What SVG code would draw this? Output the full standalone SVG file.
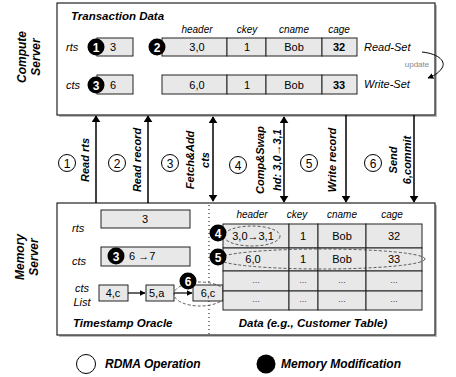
<svg xmlns="http://www.w3.org/2000/svg" width="456" height="377" viewBox="0 0 456 377">
<defs>
<marker id="ah" viewBox="0 0 10 10" refX="9" refY="5" markerWidth="7" markerHeight="9" markerUnits="userSpaceOnUse" orient="auto-start-reverse" preserveAspectRatio="none"><path d="M0,0 L10,5 L0,10 z" fill="#000"/></marker>
<marker id="sah" viewBox="0 0 10 10" refX="9" refY="5" markerWidth="6" markerHeight="6" markerUnits="userSpaceOnUse" orient="auto"><path d="M0,0 L10,5 L0,10 z" fill="#000"/></marker>
</defs>
<style>
text{font-family:"Liberation Sans",Arial,sans-serif;fill:#000}
.t{font-size:11px}
.h{font-size:10px;font-style:italic}
.lbl{font-size:11px;font-style:italic}
.bi{font-size:11px;font-weight:bold;font-style:italic}
.lg{font-size:12px;font-weight:bold;font-style:italic}
.side{font-size:12px;font-weight:bold;font-style:italic}
.cell{fill:#e8e8e8;stroke:#222;stroke-width:1}
.panel{fill:#fff;stroke:#222;stroke-width:1.2}
.shadow{fill:#bbb}
.fc{fill:#000}
.fn{font-size:12px;font-weight:bold;fill:#fff}
.oc{fill:#fff;stroke:#000;stroke-width:1}
.on{font-size:12px}
.ln{stroke:#000;stroke-width:1.5;fill:none}
.dash{fill:none;stroke:#333;stroke-width:0.8;stroke-dasharray:3,2}
.dots{stroke:#000;stroke-width:1;stroke-dasharray:1,3}
.dd{font-size:9px;fill:#444}
</style>

<g id="compute-label">
<text class="side" text-anchor="middle" transform="translate(26,57) rotate(-90)">Compute</text>
<text class="side" text-anchor="middle" transform="translate(40,57) rotate(-90)">Server</text>
</g>
<g id="memory-label">
<text class="side" text-anchor="middle" transform="translate(24,257) rotate(-90)">Memory</text>
<text class="side" text-anchor="middle" transform="translate(38,257) rotate(-90)">Server</text>
</g>

<g id="compute-server">
<rect class="shadow" x="59" y="5" width="378" height="112"/>
<rect class="panel" x="57" y="3" width="378" height="112"/>
<text class="bi" x="71" y="20" style="font-size:11.5px">Transaction Data</text>
<text class="h" x="197" y="33" text-anchor="middle">header</text>
<text class="h" x="247" y="33" text-anchor="middle">ckey</text>
<text class="h" x="294" y="33" text-anchor="middle">cname</text>
<text class="h" x="339" y="33" text-anchor="middle">cage</text>
<text class="lbl" x="66" y="51">rts</text>
<rect class="cell" x="97" y="38" width="36" height="18"/>
<text class="t" x="110" y="51">3</text>
<rect class="cell" x="162" y="38" width="65" height="18"/>
<rect class="cell" x="227" y="38" width="39" height="18"/>
<rect class="cell" x="266" y="38" width="56" height="18"/>
<rect class="cell" x="322" y="38" width="35" height="18"/>
<text class="t" x="197" y="51" text-anchor="middle">3,0</text>
<text class="t" x="247" y="51" text-anchor="middle">1</text>
<text class="t" x="294" y="51" text-anchor="middle">Bob</text>
<text class="t" x="339" y="51" text-anchor="middle" font-weight="bold">32</text>
<text class="lbl" x="364" y="51">Read-Set</text>
<text class="lbl" x="66" y="89">cts</text>
<rect class="cell" x="97" y="75" width="36" height="19"/>
<text class="t" x="110" y="89">6</text>
<rect class="cell" x="162" y="75" width="65" height="19"/>
<rect class="cell" x="227" y="75" width="39" height="19"/>
<rect class="cell" x="266" y="75" width="56" height="19"/>
<rect class="cell" x="322" y="75" width="35" height="19"/>
<text class="t" x="197" y="89" text-anchor="middle">6,0</text>
<text class="t" x="247" y="89" text-anchor="middle">1</text>
<text class="t" x="294" y="89" text-anchor="middle">Bob</text>
<text class="t" x="339" y="89" text-anchor="middle" font-weight="bold">33</text>
<text class="lbl" x="364" y="88">Write-Set</text>
<circle class="fc" cx="96" cy="47" r="8.5"/><text class="fn" x="96" y="51.5" text-anchor="middle">1</text>
<circle class="fc" cx="157" cy="47" r="8.5"/><text class="fn" x="157" y="51.5" text-anchor="middle">2</text>
<circle class="fc" cx="96" cy="85" r="8.5"/><text class="fn" x="96" y="89.5" text-anchor="middle">3</text>
<text x="417" y="67" text-anchor="middle" style="font-size:8px;fill:#888">update</text>
</g>

<g id="memory-server">
<rect class="shadow" x="59" y="205" width="378" height="132"/>
<rect class="panel" x="57" y="203" width="378" height="132"/>
<line class="dots" x1="209" y1="205" x2="209" y2="334"/>
<text class="lbl" x="72" y="232">rts</text>
<rect class="cell" x="101" y="210" width="89" height="18"/>
<text class="t" x="145" y="223" text-anchor="middle">3</text>
<text class="lbl" x="72" y="265">cts</text>
<rect class="cell" x="101" y="247" width="89" height="19"/>
<circle class="fc" cx="116" cy="256" r="8.5"/><text class="fn" x="116" y="260.5" text-anchor="middle">3</text>
<text class="t" x="129" y="260">6 →7</text>
<text class="lbl" x="82" y="292" text-anchor="middle">cts</text>
<text class="lbl" x="82" y="306" text-anchor="middle">List</text>
<rect class="cell" x="99" y="285" width="29" height="16"/>
<text class="t" x="113" y="297" text-anchor="middle">4,c</text>
<rect class="cell" x="146" y="285" width="28" height="16"/>
<text class="t" x="149" y="297">5,a</text>
<rect class="cell" x="193" y="285" width="30" height="16"/>
<text class="t" x="208" y="297" text-anchor="middle">6,c</text>
<line x1="128" y1="293" x2="145" y2="293" stroke="#000" stroke-width="1.2" marker-end="url(#sah)"/>
<line x1="174" y1="293" x2="192" y2="293" stroke="#000" stroke-width="1.2" marker-end="url(#sah)"/>
<ellipse class="dash" cx="200" cy="294" rx="26" ry="12"/>
<circle class="fc" cx="188" cy="281" r="8.5"/><text class="fn" x="188" y="285.5" text-anchor="middle">6</text>
<text class="bi" x="73" y="327" style="font-size:11.5px">Timestamp Oracle</text>

<text class="h" x="252" y="218" text-anchor="middle">header</text>
<text class="h" x="297" y="218" text-anchor="middle">ckey</text>
<text class="h" x="342" y="218" text-anchor="middle">cname</text>
<text class="h" x="392" y="218" text-anchor="middle">cage</text>
<rect class="cell" x="223" y="224" width="66" height="24"/>
<rect class="cell" x="289" y="224" width="29" height="24"/>
<rect class="cell" x="318" y="224" width="48" height="24"/>
<rect class="cell" x="366" y="224" width="56" height="24"/>
<rect class="cell" x="223" y="248" width="66" height="23"/>
<rect class="cell" x="289" y="248" width="29" height="23"/>
<rect class="cell" x="318" y="248" width="48" height="23"/>
<rect class="cell" x="366" y="248" width="56" height="23"/>
<rect class="cell" x="223" y="271" width="66" height="20"/>
<rect class="cell" x="289" y="271" width="29" height="20"/>
<rect class="cell" x="318" y="271" width="48" height="20"/>
<rect class="cell" x="366" y="271" width="56" height="20"/>
<rect class="cell" x="223" y="291" width="66" height="19"/>
<rect class="cell" x="289" y="291" width="29" height="19"/>
<rect class="cell" x="318" y="291" width="48" height="19"/>
<rect class="cell" x="366" y="291" width="56" height="19"/>
<text class="t" x="253" y="240" text-anchor="middle">3,0→3,1</text>
<text class="t" x="303" y="240" text-anchor="middle">1</text>
<text class="t" x="342" y="240" text-anchor="middle">Bob</text>
<text class="t" x="394" y="240" text-anchor="middle">32</text>
<text class="t" x="253" y="263" text-anchor="middle">6,0</text>
<text class="t" x="303" y="263" text-anchor="middle">1</text>
<text class="t" x="342" y="263" text-anchor="middle">Bob</text>
<text class="t" x="394" y="263" text-anchor="middle">33</text>
<text class="dd" x="256" y="283" text-anchor="middle">...</text>
<text class="dd" x="303" y="283" text-anchor="middle">...</text>
<text class="dd" x="342" y="283" text-anchor="middle">...</text>
<text class="dd" x="394" y="283" text-anchor="middle">...</text>
<text class="dd" x="256" y="302" text-anchor="middle">...</text>
<text class="dd" x="303" y="302" text-anchor="middle">...</text>
<text class="dd" x="342" y="302" text-anchor="middle">...</text>
<text class="dd" x="394" y="302" text-anchor="middle">...</text>
<ellipse class="dash" cx="252" cy="236" rx="28" ry="10"/>
<ellipse class="dash" cx="322" cy="259" rx="103" ry="10"/>
<circle class="fc" cx="218" cy="233" r="8.5"/><text class="fn" x="218" y="237.5" text-anchor="middle">4</text>
<circle class="fc" cx="218" cy="257" r="8.5"/><text class="fn" x="218" y="261.5" text-anchor="middle">5</text>
<text class="bi" x="313" y="327" text-anchor="middle" style="font-size:11.5px">Data (e.g., Customer Table)</text>
</g>

<g id="connectors">
<line class="ln" x1="96" y1="203" x2="96" y2="116" marker-end="url(#ah)"/>
<line class="ln" x1="148" y1="203" x2="148" y2="116" marker-end="url(#ah)"/>
<line class="ln" x1="213" y1="117" x2="213" y2="201" marker-start="url(#ah)" marker-end="url(#ah)"/>
<line class="ln" x1="284" y1="117" x2="284" y2="202" marker-start="url(#ah)" marker-end="url(#ah)"/>
<line class="ln" x1="346" y1="115" x2="346" y2="202" marker-end="url(#ah)"/>
<line class="ln" x1="414" y1="115" x2="414" y2="202" marker-end="url(#ah)"/>
<path d="M422,52 C440,54 446,62 442,68 C438,74 433,76 428,78" fill="none" stroke="#000" stroke-width="1" marker-end="url(#sah)"/>
</g>

<g id="op-labels">
<circle class="oc" cx="67" cy="163" r="8.5"/><text class="on" x="67" y="167.5" text-anchor="middle">1</text>
<circle class="oc" cx="117" cy="163" r="8.5"/><text class="on" x="117" y="167.5" text-anchor="middle">2</text>
<circle class="oc" cx="170" cy="163" r="8.5"/><text class="on" x="170" y="167.5" text-anchor="middle">3</text>
<circle class="oc" cx="238" cy="165" r="8.5"/><text class="on" x="238" y="169.5" text-anchor="middle">4</text>
<circle class="oc" cx="309" cy="163" r="8.5"/><text class="on" x="309" y="167.5" text-anchor="middle">5</text>
<circle class="oc" cx="373" cy="163" r="8.5"/><text class="on" x="373" y="167.5" text-anchor="middle">6</text>
<text class="bi" text-anchor="middle" transform="translate(89,160) rotate(-90)">Read rts</text>
<text class="bi" text-anchor="middle" transform="translate(141,160) rotate(-90)">Read record</text>
<text class="bi" text-anchor="middle" transform="translate(194,160) rotate(-90)">Fetch&amp;Add</text>
<text class="bi" text-anchor="middle" transform="translate(209,160) rotate(-90)">cts</text>
<text class="bi" text-anchor="middle" transform="translate(264,160) rotate(-90)">Comp&amp;Swap</text>
<text class="bi" text-anchor="middle" transform="translate(281,160) rotate(-90)">hd: 3,0→3,1</text>
<text class="bi" text-anchor="middle" transform="translate(336,160) rotate(-90)">Write record</text>
<text class="bi" text-anchor="middle" transform="translate(397,160) rotate(-90)">Send</text>
<text class="bi" text-anchor="middle" transform="translate(411,160) rotate(-90)">6,commit</text>
</g>

<g id="legend">
<circle class="oc" cx="86" cy="364" r="9.5"/>
<text class="lg" x="105" y="368">RDMA Operation</text>
<circle class="fc" cx="266" cy="364" r="9.5"/>
<text class="lg" x="281" y="368">Memory Modification</text>
</g>
</svg>
